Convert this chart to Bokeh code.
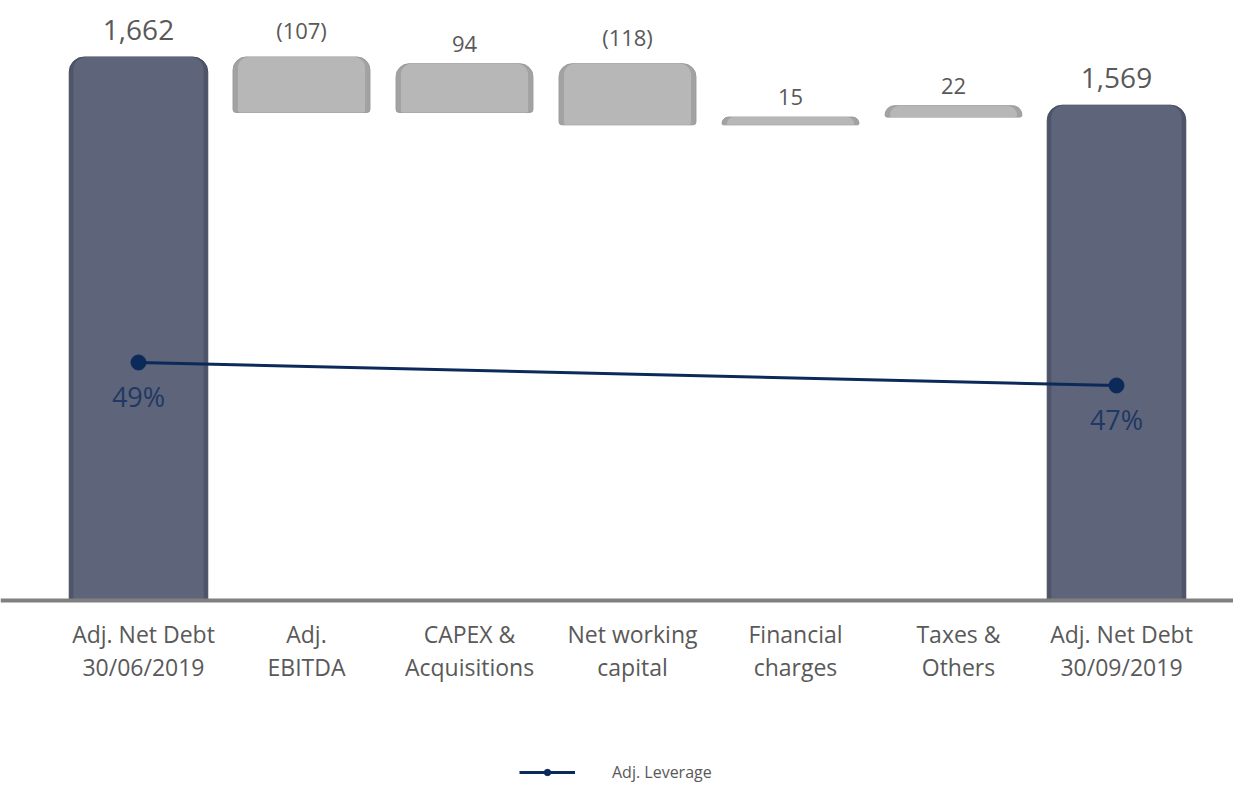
from bokeh.plotting import figure
from bokeh.models import Range1d, Span, Legend, LegendItem, ColumnDataSource
from bokeh.core.properties import value
from bokeh.embed import file_html
from bokeh.resources import INLINE

# ---- data ----
categories = ["Adj. Net Debt\n30/06/2019", "Adj.\nEBITDA", "CAPEX &\nAcquisitions",
              "Net working\ncapital", "Financial\ncharges", "Taxes &\nOthers",
              "Adj. Net Debt\n30/09/2019"]
opening_debt = 1662
movements = [-107, 94, -118, 15, 22]
closing_debt = 1569
value_labels = ["1,662", "(107)", "94", "(118)", "15", "22", "1,569"]
leverage = [49, 47]
leverage_labels = ["49%", "47%"]

# ---- styles / layout ----
AXIS_MIN = 613
FONT_NAME = "Open Sans"
FONT = value(FONT_NAME)
GREY_TXT = "#595959"
NAVY = "#0b2a5a"

# waterfall geometry from the data
idx = list(range(len(categories)))
step_x, step_top, step_bot = [], [], []
level = opening_debt
for i, m in enumerate(movements, start=1):
    new = level + m
    step_x.append(i)
    step_top.append(max(level, new))
    step_bot.append(min(level, new))
    level = new
total_x = [0, len(categories) - 1]
total_top = [opening_debt, closing_debt]

p = figure(width=1233, height=786, output_backend="svg", toolbar_location=None,
           x_range=Range1d(-0.8466, 6.7178), y_range=Range1d(254, 1771),
           x_axis_location=None, y_axis_location=None, min_border=0)
p.extra_y_ranges = {"lev": Range1d(12.13, 80.48)}
p.grid.visible = False
p.outline_line_color = None
p.background_fill_color = "white"

# total bars (with a soft bevel)
p.vbar(x=total_x, top=total_top, bottom=AXIS_MIN, width=0.85,
       fill_color="#4f5569", line_color="#454b5e", line_width=1,
       border_radius=(15, 15, 0, 0))
p.vbar(x=total_x, top=total_top, bottom=AXIS_MIN, width=0.80,
       fill_color="#5e6479", line_color=None,
       border_radius=(13, 13, 0, 0))
# step bars
p.vbar(x=step_x, top=step_top, bottom=step_bot, width=0.84,
       fill_color="#a2a2a2", line_color="#9a9a9a", line_width=1,
       border_radius=(13, 13, 3, 3))
p.vbar(x=step_x, top=step_top, bottom=step_bot, width=0.78,
       fill_color="#b7b7b7", line_color=None,
       border_radius=(11, 11, 2, 2))

# baseline axis line
p.add_layout(Span(location=AXIS_MIN, dimension="width", line_color="#808080", line_width=4))

# value labels
p.text(x=total_x, y=total_top, text=[value_labels[0], value_labels[-1]],
       y_offset=-17, text_align="center", text_baseline="bottom",
       text_font=FONT, text_font_size="28px", text_color=GREY_TXT)
p.text(x=step_x, y=step_top, text=value_labels[1:-1],
       y_offset=-12, text_align="center", text_baseline="bottom",
       text_font=FONT, text_font_size="22px", text_color=GREY_TXT)

# category labels
p.text(x=idx, y=[AXIS_MIN] * len(idx), text=categories, x_offset=5, y_offset=50,
       text_align="center", text_baseline="middle", text_line_height=1.05,
       text_font=FONT, text_font_size="23px", text_color=GREY_TXT)

# leverage line
lev_src = ColumnDataSource(dict(x=total_x, y=leverage, lab=leverage_labels))
ln = p.line("x", "y", source=lev_src, y_range_name="lev", line_color=NAVY, line_width=3)
pts = p.scatter("x", "y", source=lev_src, y_range_name="lev", size=15,
                fill_color=NAVY, line_color=NAVY)
p.text("x", "y", text="lab", source=lev_src, y_range_name="lev", y_offset=34,
       text_align="center", text_baseline="middle",
       text_font=FONT, text_font_size="27px", text_color="#1f3864")

legend = Legend(items=[LegendItem(label="Adj. Leverage", renderers=[ln, pts])],
                location=(519, 3), orientation="horizontal",
                glyph_width=56, glyph_height=16, label_standoff=37,
                padding=0, margin=0, border_line_color=None,
                background_fill_alpha=0,
                label_text_font=FONT_NAME, label_text_font_size="16px",
                label_text_color=GREY_TXT)
p.add_layout(legend, "center")

open("out.html", "w").write(file_html(p, INLINE))
